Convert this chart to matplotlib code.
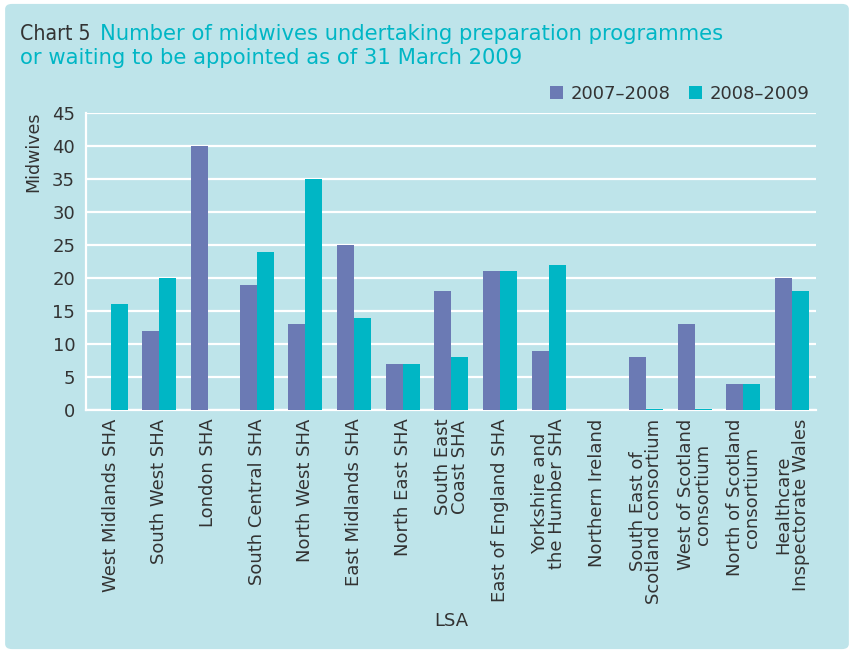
#!/usr/bin/env python3
import numpy as np
import matplotlib
matplotlib.use("Agg")
import matplotlib.pyplot as plt
from matplotlib.patches import FancyBboxPatch

plt.rcParams.update({
    'font.family': 'DejaVu Sans',
    'font.size': 11,
})

# data
categories = [
    "West Midlands SHA", "South West SHA", "London SHA", "South Central SHA",
    "North West SHA", "East Midlands SHA", "North East SHA", "South East\nCoast SHA",
    "East of England SHA", "Yorkshire and\nthe Humber SHA", "Northern Ireland",
    "South East of\nScotland consortium", "West of Scotland\nconsortium",
    "North of Scotland\nconsortium", "Healthcare\nInspectorate Wales",
]
vals_0708 = [0, 12, 40, 19, 13, 25, 7, 18, 21, 9, 0, 8, 13, 4, 20]
vals_0809 = [16, 20, 0, 24, 35, 14, 7, 8, 21, 22, 0, 0.15, 0.15, 4, 18]
series_labels = ["2007\u20132008", "2008\u20132009"]
yticks = [0, 5, 10, 15, 20, 25, 30, 35, 40, 45]

BG = "#bee4ea"
PURPLE = "#6b7ab4"
TEAL = "#00b6c5"
TEXT = "#333333"

fig = plt.figure(figsize=(8.54, 6.53), dpi=100, facecolor="white")
# rounded light-blue panel behind everything
panel = FancyBboxPatch((0.006, 0.006), 0.988, 0.988,
                       boxstyle="round,pad=0,rounding_size=0.008",
                       transform=fig.transFigure, facecolor=BG,
                       edgecolor="none", zorder=-10)
fig.patches.append(panel)

ax = fig.add_axes([0.101, 0.372, 0.855, 0.455])
ax.set_facecolor(BG)

x = np.arange(len(categories))
w = 0.35
ax.bar(x - w / 2, vals_0708, w, color=PURPLE, label=series_labels[0], zorder=3)
ax.bar(x + w / 2, vals_0809, w, color=TEAL, label=series_labels[1], zorder=3)

ax.set_xlim(-0.5, len(categories) - 0.5)
ax.set_ylim(0, 45)
ax.set_yticks(yticks)
ax.yaxis.grid(True, color="white", linewidth=1.6, zorder=0)
ax.set_axisbelow(True)
for s in ["top", "right"]:
    ax.spines[s].set_visible(False)
for s in ["left", "bottom"]:
    ax.spines[s].set_color("white")
    ax.spines[s].set_linewidth(1.6)
ax.tick_params(length=0, colors=TEXT, labelsize=13)
ax.tick_params(axis="y", pad=8)
ax.tick_params(axis="x", pad=6)
ax.set_xticks(x)
ax.set_xticklabels(categories, rotation=90, linespacing=0.92)
ax.set_ylabel("Midwives", color=TEXT, fontsize=12.5)
ax.yaxis.set_label_coords(-0.06, 0.87)
ax.set_xlabel("LSA", color=TEXT, fontsize=13, labelpad=6)

ax.legend(loc="lower right", bbox_to_anchor=(1.0, 1.01), ncol=2, frameon=False,
          handlelength=0.75, handleheight=0.75, handletextpad=0.4,
          columnspacing=1.0, fontsize=13, labelcolor=TEXT, borderaxespad=0)

fig.text(0.023, 0.948, "Chart 5 ", color=TEXT, fontsize=15.2, ha="left", va="center",
         fontstretch="condensed")
fig.text(0.117, 0.948, "Number of midwives undertaking preparation programmes",
         color=TEAL, fontsize=15.2, ha="left", va="center")
fig.text(0.023, 0.911, "or waiting to be appointed as of 31 March 2009",
         color=TEAL, fontsize=15.2, ha="left", va="center")

plt.savefig("out.png", dpi=100, facecolor="white")
